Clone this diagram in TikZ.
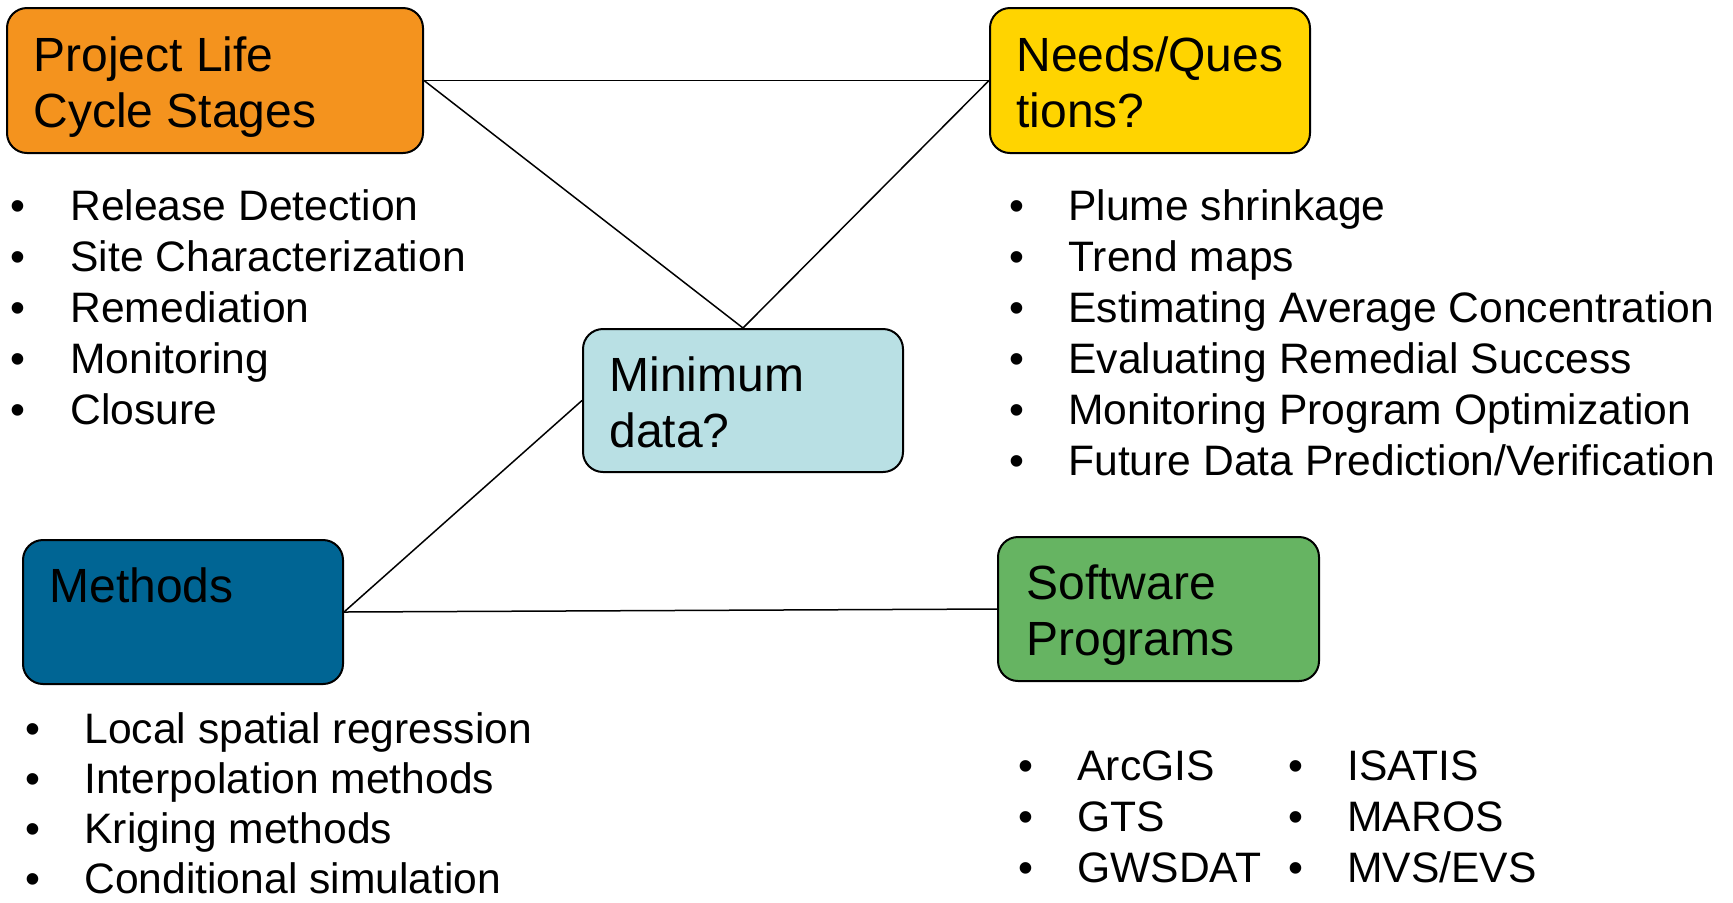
\documentclass[tikz,border=0pt]{standalone}
\usepackage{fontspec}
\setmainfont{Liberation Sans}
\usetikzlibrary{calc}

\definecolor{stageorange}{HTML}{F4931E}
\definecolor{needsyellow}{HTML}{FFD400}
\definecolor{datablue}{HTML}{B9E0E4}
\definecolor{methodblue}{HTML}{006594}
\definecolor{softgreen}{HTML}{66B462}

\tikzset{
	topicbox/.style={draw=black, line width=1pt, rounded corners=10pt, inner sep=0pt},
	topictext/.style={anchor=base west, inner sep=0pt, font=\fontsize{24}{28}\selectfont},
	dotmark/.style={anchor=base west, inner sep=0pt, font=\fontsize{21.3}{25.5}\selectfont},
	entry/.style={anchor=base west, inner sep=0pt, font=\fontsize{21.3}{25.5}\selectfont},
	link/.style={line width=0.75pt}
}

\begin{document}
\begin{tikzpicture}[x=0.5pt, y=-0.5pt]
			\useasboundingbox (0,0) rectangle (1733,902);

			% the five topics
			\node[topicbox, fill=stageorange, minimum width=208pt, minimum height=72.5pt] (plc) at (215,80.5) {};
			\node[topicbox, fill=needsyellow, minimum width=160pt, minimum height=72.5pt] (needs) at (1150,80.5) {};
			\node[topicbox, fill=datablue, minimum width=160pt, minimum height=71.5pt] (mindata) at (743,400.5) {};
			\node[topicbox, fill=methodblue, minimum width=160pt, minimum height=72pt] (methods) at (183,612) {};
			\node[topicbox, fill=softgreen, minimum width=160.5pt, minimum height=72pt] (software) at (1158.5,609) {};

			\node[topictext] (plc-t) at ($(plc.north west)+(27,64)$) {\parbox[t]{200pt}{Project Life\\Cycle Stages}};
			\node[topictext] (needs-t) at ($(needs.north west)+(27,64)$) {\parbox[t]{150pt}{Needs/Ques\\tions?}};
			\node[topictext] (mindata-t) at ($(mindata.north west)+(27,63)$) {\parbox[t]{150pt}{Minimum\\data?}};
			\node[topictext] (methods-t) at ($(methods.north west)+(27,63)$) {Methods};
			\node[topictext] (software-t) at ($(software.north west)+(29,63)$) {\parbox[t]{150pt}{Software\\Programs}};

			% connectors
			\draw[link] (plc.east) -- (needs.west);
			\draw[link] (plc.east) -- (mindata.north);
			\draw[link] (needs.west) -- (mindata.north);
			\draw[link] (mindata.west) -- (methods.east);
			\draw[link] (methods.east) -- (software.west);

			% bullet lists
			\foreach \t [count=\i] in {Release Detection,Site Characterization,Remediation,Monitoring,Closure}{
				\node[dotmark] (plc-d\i) at (10,{220+51.1*(\i-1)}) {•};
				\node[entry] (plc-i\i) at (70,{220+51.1*(\i-1)}) {\t};
			}
			\foreach \t [count=\i] in {Plume shrinkage,Trend maps,Estimating Average Concentration,Evaluating Remedial Success,Monitoring Program Optimization,Future Data Prediction/Verification}{
				\node[dotmark] (needs-d\i) at (1009.5,{220+51.1*(\i-1)}) {•};
				\node[entry] (needs-i\i) at (1068,{220+51.1*(\i-1)}) {\t};
			}
			\foreach \t [count=\i] in {Local spatial regression,Interpolation methods,Kriging methods,Conditional simulation}{
				\node[dotmark] (methods-d\i) at (25.5,{743+50*(\i-1)}) {•};
				\node[entry] (methods-i\i) at (84,{743+50*(\i-1)}) {\t};
			}
			\foreach \t\u [count=\i] in {ArcGIS/ISATIS,GTS/MAROS,GWSDAT/MVS\slash EVS}{
				\node[dotmark] (software-d\i) at (1018,{780+51.3*(\i-1)}) {•};
				\node[entry] (software-i\i) at (1077,{780+51.3*(\i-1)}) {\t};
				\node[dotmark] (software-e\i) at (1288,{780+51.3*(\i-1)}) {•};
				\node[entry] (software-j\i) at (1347,{780+51.3*(\i-1)}) {\u};
			}
		\end{tikzpicture}
\end{document}
